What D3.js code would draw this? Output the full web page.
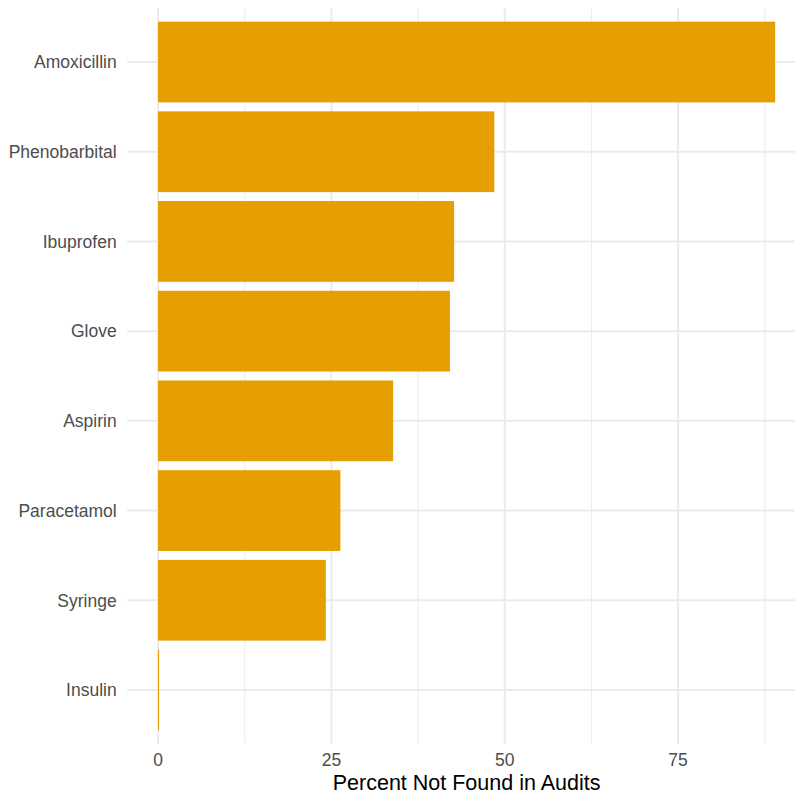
<!DOCTYPE html>
<html>
<head>
<meta charset="utf-8">
<script src="https://cdn.jsdelivr.net/npm/d3@7"></script>
<style>
  html, body { margin: 0; padding: 0; background: #ffffff; }
  svg { display: block; font-family: "Liberation Sans", Arial, Helvetica, sans-serif; }
</style>
</head>
<body>
<svg id="chart" width="795" height="796"></svg>
<script>
// Data (top to bottom)
const categories = ["Amoxicillin", "Phenobarbital", "Ibuprofen", "Glove", "Aspirin", "Paracetamol", "Syringe", "Insulin"];
const values = [89.0, 48.5, 42.7, 42.1, 33.9, 26.3, 24.2, 0.15];
const xTicks = [0, 25, 50, 75];
const xMinorTicks = [12.5, 37.5, 62.5, 87.5];
const xTitle = "Percent Not Found in Audits";

const svg = d3.select("#chart");
const W = 795, H = 796;

// panel
const panel = { left: 127.2, right: 806, top: 8.2, bottom: 743.8 };

const maxV = d3.max(values);
const expand = maxV * 0.05;
const x = d3.scaleLinear()
  .domain([0 - expand, maxV + expand])
  .range([panel.left, panel.right]);

// discrete scale with 0.6 expansion on each side
const n = categories.length;
const step = (panel.bottom - panel.top) / (n - 1 + 1.2);
const yCenter = d3.scalePoint()
  .domain(categories)
  .range([panel.top + 0.6 * step, panel.bottom - 0.6 * step]);
const barH = step * 0.9;

const clipW = Math.min(panel.right, W);

// grid: minor vertical
svg.append("g").selectAll("line")
  .data(xMinorTicks)
  .join("line")
  .attr("x1", d => x(d)).attr("x2", d => x(d))
  .attr("y1", panel.top).attr("y2", panel.bottom)
  .attr("stroke", "#EBEBEB").attr("stroke-width", 1);

// grid: major vertical
svg.append("g").selectAll("line")
  .data(xTicks)
  .join("line")
  .attr("x1", d => x(d)).attr("x2", d => x(d))
  .attr("y1", panel.top).attr("y2", panel.bottom)
  .attr("stroke", "#EBEBEB").attr("stroke-width", 2);

// grid: major horizontal
svg.append("g").selectAll("line")
  .data(categories)
  .join("line")
  .attr("x1", panel.left).attr("x2", clipW)
  .attr("y1", d => yCenter(d)).attr("y2", d => yCenter(d))
  .attr("stroke", "#EBEBEB").attr("stroke-width", 2);

// bars
svg.append("g").selectAll("rect")
  .data(categories.map((c, i) => ({ c, v: values[i] })))
  .join("rect")
  .attr("x", x(0))
  .attr("y", d => yCenter(d.c) - barH / 2)
  .attr("width", d => Math.max(0, x(d.v) - x(0)))
  .attr("height", barH)
  .attr("fill", "#E69F00");

// y axis labels
svg.append("g").selectAll("text")
  .data(categories)
  .join("text")
  .attr("x", panel.left - 10.5)
  .attr("y", d => yCenter(d))
  .attr("dy", "0.36em")
  .attr("text-anchor", "end")
  .attr("font-size", 17.5)
  .attr("fill", "#4D4D4D")
  .text(d => d);

// x axis labels
svg.append("g").selectAll("text")
  .data(xTicks)
  .join("text")
  .attr("x", d => x(d))
  .attr("y", 766)
  .attr("text-anchor", "middle")
  .attr("font-size", 17.5)
  .attr("fill", "#4D4D4D")
  .text(d => d);

// x title
svg.append("text")
  .attr("x", (panel.left + panel.right) / 2)
  .attr("y", 789.5)
  .attr("text-anchor", "middle")
  .attr("font-size", 21.5)
  .attr("fill", "#000000")
  .text(xTitle);
</script>
</body>
</html>
